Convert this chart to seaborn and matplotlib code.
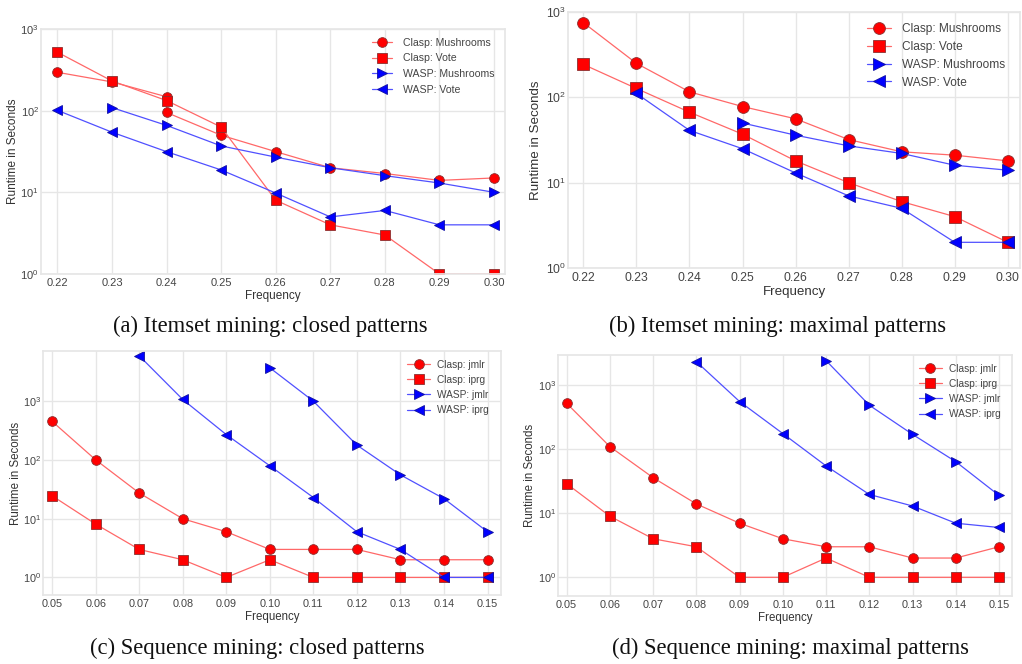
import numpy as np
import pandas as pd
import matplotlib
matplotlib.use("Agg")
import matplotlib.pyplot as plt
import seaborn as sns

# ---------------- data ----------------
freq_a = [0.22, 0.23, 0.24, 0.24, 0.25, 0.26, 0.27, 0.28, 0.29, 0.30]
clasp_mush_a = [295, 225, 148, 95, 50, 31.5, 20, 17, 14, 15]
freq_a2 = [0.22, 0.23, 0.24, 0.25, 0.26, 0.27, 0.28, 0.29, 0.30]
clasp_vote_a = [520, 231, 133, 63, 8, 4, 3, 1, 1]
freq_a3 = [0.23, 0.24, 0.25, 0.26, 0.27, 0.28, 0.29, 0.30]
wasp_mush_a = [109, 66, 37, 27, 20, 16, 13, 10]
wasp_vote_a = [101, 54.5, 31.5, 18.8, 9.8, 5, 6, 4, 4]

freq_b = [0.22, 0.23, 0.24, 0.25, 0.26, 0.27, 0.28, 0.29, 0.30]
clasp_mush_b = [750, 250, 116, 78, 56, 32, 23, 21, 18]
clasp_vote_b = [243, 127, 67, 37, 18, 10, 6, 4, 2]
freq_b2 = [0.25, 0.26, 0.27, 0.28, 0.29, 0.30]
wasp_mush_b = [50, 36, 27, 22, 16, 14]
freq_b3 = [0.23, 0.24, 0.25, 0.26, 0.27, 0.28, 0.29, 0.30]
wasp_vote_b = [111, 41, 25, 13, 7, 5, 2, 2]

freq_c = [0.05, 0.06, 0.07, 0.08, 0.09, 0.10, 0.11, 0.12, 0.13, 0.14, 0.15]
clasp_jmlr_c = [457, 101, 27.5, 10, 6, 3, 3, 3, 2, 2, 2]
clasp_iprg_c = [24.6, 8.1, 3, 2, 1, 2, 1, 1, 1, 1, 1]
freq_c2 = [0.10, 0.11, 0.12, 0.13, 0.14, 0.15]
wasp_jmlr_c = [3750, 1010, 180, 56, 22, 6]
freq_c3 = [0.07, 0.08, 0.09, 0.10, 0.11, 0.12, 0.13, 0.14, 0.15]
wasp_iprg_c = [6000, 1080, 272, 80, 23, 6, 3, 1, 1]

freq_d = [0.05, 0.06, 0.07, 0.08, 0.09, 0.10, 0.11, 0.12, 0.13, 0.14, 0.15]
clasp_jmlr_d = [523, 110, 36, 14, 7, 4, 3, 3, 2, 2, 3]
clasp_iprg_d = [29, 9, 4, 3, 1, 1, 2, 1, 1, 1, 1]
freq_d2 = [0.11, 0.12, 0.13, 0.14, 0.15]
wasp_jmlr_d = [2430, 488, 171, 64, 19]
freq_d3 = [0.08, 0.09, 0.10, 0.11, 0.12, 0.13, 0.14, 0.15]
wasp_iprg_d = [2340, 557, 176, 55, 19.7, 13, 7, 6]

ticks_ab = [0.22, 0.23, 0.24, 0.25, 0.26, 0.27, 0.28, 0.29, 0.30]
ticks_cd = [0.05, 0.06, 0.07, 0.08, 0.09, 0.10, 0.11, 0.12, 0.13, 0.14, 0.15]
captions = ["(a) Itemset mining: closed patterns", "(b) Itemset mining: maximal patterns",
            "(c) Sequence mining: closed patterns", "(d) Sequence mining: maximal patterns"]

# ---------------- style ----------------
sns.set_theme(style="whitegrid")
plt.rcParams['font.family'] = ['Liberation Sans', 'DejaVu Sans']
plt.rcParams['mathtext.fontset'] = 'custom'
plt.rcParams['mathtext.rm'] = 'Liberation Sans'
plt.rcParams['mathtext.it'] = 'Liberation Sans'

W, H = 1022, 664
fig = plt.figure(figsize=(W / 100, H / 100), dpi=100)

def add_ax(l, r, t, b):
    return fig.add_axes([l / W, (H - b) / H, (r - l) / W, (b - t) / H])

RED_LINE = '#ff6868'
BLUE_LINE = '#5050ff'

def draw(ax, series, ms, tick_fs, lab_fs, leg_fs, xticks, xlim, ylim,
         ylab_x, leg_xy, hlen, tpad, lspace):
    for x, y, lab, mk, col in series:
        df = pd.DataFrame({"x": x, "y": y})
        red = col == 'red'
        sns.lineplot(data=df, x="x", y="y", ax=ax, sort=False, estimator=None,
                     color=RED_LINE if red else BLUE_LINE, lw=0.9,
                     marker=mk, markersize=ms,
                     markerfacecolor='#ff0000' if red else '#0000ff',
                     markeredgecolor='#8a3030' if red else '#1010a0',
                     markeredgewidth=0.6, label=lab)
    ax.set_yscale('log')
    ax.set_xlim(*xlim)
    ax.set_ylim(*ylim)
    ax.set_xticks(xticks)
    ax.set_xticklabels([f"{t:.2f}" for t in xticks])
    ax.tick_params(axis='x', which='both', length=0, labelsize=tick_fs,
                   colors='#444444', pad=3)
    ax.tick_params(axis='y', which='both', length=0, labelsize=tick_fs,
                   colors='#444444', pad=1.5)
    ax.set_xlabel("Frequency", fontsize=lab_fs, color='#333333', labelpad=1)
    ax.set_ylabel("Runtime in Seconds", fontsize=lab_fs, color='#333333')
    ax.yaxis.set_label_coords(ylab_x, 0.5)
    ax.grid(True, which='major', color='#e6e6e6', lw=1.0)
    ax.grid(False, which='minor')
    for s in ax.spines.values():
        s.set_color('#e6e6e6')
    ax.legend(frameon=False, fontsize=leg_fs, labelcolor='#444444',
              handlelength=hlen, handletextpad=tpad, labelspacing=lspace,
              borderpad=0, borderaxespad=0, loc='upper left',
              bbox_to_anchor=(leg_xy[0] / W, 1 - leg_xy[1] / H),
              bbox_transform=fig.transFigure)

ax_a = add_ax(41, 505, 29, 274)
draw(ax_a, [(freq_a, clasp_mush_a, "Clasp: Mushrooms", 'o', 'red'),
            (freq_a2, clasp_vote_a, "Clasp: Vote", 's', 'red'),
            (freq_a3, wasp_mush_a, "WASP: Mushrooms", '>', 'blue'),
            (freq_a2, wasp_vote_a, "WASP: Vote", '<', 'blue')],
     ms=7, tick_fs=8, lab_fs=8.5, leg_fs=7.6, xticks=ticks_ab,
     xlim=(0.2170, 0.3020), ylim=(1, 1000), ylab_x=-0.048,
     leg_xy=(372, 37.5), hlen=1.9, tpad=1.0, lspace=0.55)

ax_b = add_ax(568, 1020, 12, 268)
draw(ax_b, [(freq_b, clasp_mush_b, "Clasp: Mushrooms", 'o', 'red'),
            (freq_b, clasp_vote_b, "Clasp: Vote", 's', 'red'),
            (freq_b2, wasp_mush_b, "WASP: Mushrooms", '>', 'blue'),
            (freq_b3, wasp_vote_b, "WASP: Vote", '<', 'blue')],
     ms=8.5, tick_fs=8.7, lab_fs=9.6, leg_fs=8.6, xticks=ticks_ab,
     xlim=(0.2171, 0.3023), ylim=(1, 1000), ylab_x=-0.058,
     leg_xy=(867, 23), hlen=2.05, tpad=0.85, lspace=0.49)

ax_c = add_ax(43, 501, 351, 595)
draw(ax_c, [(freq_c, clasp_jmlr_c, "Clasp: jmlr", 'o', 'red'),
            (freq_c, clasp_iprg_c, "Clasp: iprg", 's', 'red'),
            (freq_c2, wasp_jmlr_c, "WASP: jmlr", '>', 'blue'),
            (freq_c3, wasp_iprg_c, "WASP: iprg", '<', 'blue')],
     ms=7, tick_fs=7.8, lab_fs=8.3, leg_fs=7.3, xticks=ticks_cd,
     xlim=(0.0479, 0.1531), ylim=(10 ** -0.30, 10 ** 3.86), ylab_x=-0.046,
     leg_xy=(407, 359.5), hlen=2.3, tpad=0.65, lspace=0.52)

ax_d = add_ax(558, 1012, 355, 596)
draw(ax_d, [(freq_d, clasp_jmlr_d, "Clasp: jmlr", 'o', 'red'),
            (freq_d, clasp_iprg_d, "Clasp: iprg", 's', 'red'),
            (freq_d2, wasp_jmlr_d, "WASP: jmlr", '>', 'blue'),
            (freq_d3, wasp_iprg_d, "WASP: iprg", '<', 'blue')],
     ms=7, tick_fs=7.8, lab_fs=8.3, leg_fs=7.3, xticks=ticks_cd,
     xlim=(0.0480, 0.1530), ylim=(10 ** -0.292, 10 ** 3.473), ylab_x=-0.048,
     leg_xy=(919, 363.5), hlen=2.25, tpad=0.72, lspace=0.52)

for (cx, cy), txt in zip([(270, 326), (778, 326), (257, 648), (790, 648)], captions):
    fig.text(cx / W, 1 - cy / H, txt, ha='center', va='center',
             family=['Liberation Serif', 'DejaVu Serif'], fontsize=16.3, color='#111111')

fig.savefig("out.png", dpi=100)
